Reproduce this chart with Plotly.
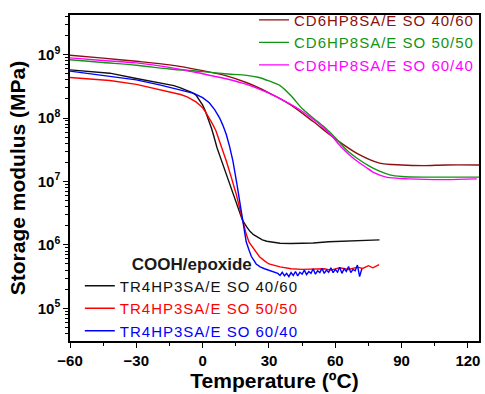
import plotly.graph_objects as go

# ---------------- data ----------------
cd_4060_T = [-60, -45, -30, -15, 0, 10, 20, 30, 40, 50, 60, 70, 80, 90, 100, 110, 125]
cd_4060_E = [9.8e8, 8.8e8, 7.85e8, 6.9e8, 5.6e8, 4.7e8, 3.6e8, 2.5e8, 1.6e8, 8.8e7, 4.7e7,
             2.75e7, 1.95e7, 1.82e7, 1.78e7, 1.82e7, 1.82e7]

cd_5050_T = [-60, -45, -30, -15, 0, 10, 20, 25, 30, 35, 40, 45, 50, 55, 60, 65, 70, 75, 80,
             85, 90, 100, 110, 125]
cd_5050_E = [8.3e8, 7.5e8, 6.8e8, 5.95e8, 5.4e8, 5.0e8, 4.7e8, 4.4e8, 3.85e8, 3.25e8, 2.24e8,
             1.41e8, 1.0e8, 7.2e7, 4.9e7, 3.16e7, 2.3e7, 1.78e7, 1.45e7, 1.26e7, 1.2e7, 1.17e7,
             1.17e7, 1.17e7]

cd_6040_T = [-60, -45, -30, -15, -5, 0, 10, 18, 25, 33, 38, 44, 48, 53, 58, 63, 68, 74, 78,
             83, 93, 110, 124]
cd_6040_E = [8.9e8, 8.1e8, 7.4e8, 6.3e8, 5.4e8, 5.0e8, 4.2e8, 3.55e8, 2.9e8, 2.2e8, 1.78e8,
             1.35e8, 1.07e8, 7.9e7, 5.4e7, 3.4e7, 2.35e7, 1.66e7, 1.35e7, 1.17e7, 1.1e7,
             1.07e7, 1.1e7]

tr_4060_T = [-60, -50, -42, -30, -19, -13, -10, -7, -5, -3, -1.5, 0, 1, 2, 3, 4, 5, 6.5, 8.5,
             10.7, 13, 15, 16.5, 18, 20, 21.5, 23, 25, 27, 29, 32, 35, 40, 50, 57, 65, 72, 80]
tr_4060_E = [5.75e8, 5.4e8, 5.1e8, 4.2e8, 3.55e8, 3.25e8, 3.0e8, 2.75e8, 2.55e8, 2.3e8,
             1.95e8, 1.6e8, 1.35e8, 1.1e8, 8.9e7, 6.9e7, 5.25e7, 3.4e7, 2.15e7, 1.29e7, 7.9e6,
             5.0e6, 3.4e6, 2.45e6, 1.9e6, 1.62e6, 1.45e6, 1.3e6, 1.2e6, 1.14e6, 1.09e6, 1.06e6,
             1.05e6, 1.07e6, 1.12e6, 1.15e6, 1.17e6, 1.2e6]

tr_5050_T = [-60, -42, -30, -19, -10, -7, -5, -3, -1.5, 0, 1.5, 3, 4.5, 6, 8.5, 10.7, 13,
             15.2, 17.5, 19.7, 21, 22.5, 24, 25.7, 28, 30, 35, 40, 45, 50, 55, 58, 62, 66, 70,
             72.4, 75, 77, 79.8]
tr_5050_E = [4.35e8, 3.9e8, 3.4e8, 2.8e8, 2.35e8, 2.15e8, 1.98e8, 1.8e8, 1.62e8, 1.45e8,
             1.22e8, 1.0e8, 8.0e7, 6.3e7, 3.6e7, 2.1e7, 1.15e7, 6.3e6, 2.95e6, 1.48e6, 1.1e6,
             9.3e5, 7.6e5, 6.5e5, 5.6e5, 5.0e5, 4.5e5, 4.2e5, 4.1e5, 4.1e5, 4.2e5, 4.0e5,
             4.35e5, 4.1e5, 4.45e5, 4.25e5, 4.7e5, 4.35e5, 4.9e5]

tr_6040_T = [-60, -42, -30, -19, -10, -4, 0, 3, 5.5, 7.7, 9.2, 10.7, 12.2, 13.7, 15.5, 17.4,
             18.6, 19.7, 21, 22, 24.2, 26, 28, 31.7, 34, 35, 36, 37, 38, 39, 40, 41, 42, 43, 44,
             45, 46, 47, 48, 49, 50, 51, 52, 53, 54, 55, 56, 57, 58, 59, 60, 61, 62, 63, 64, 65,
             66, 67, 68, 69, 70, 71, 72]
tr_6040_E = [5.5e8, 4.5e8, 4.0e8, 3.3e8, 2.8e8, 2.45e8, 2.1e8, 1.74e8, 1.35e8, 1.0e8, 7.6e7,
             5.5e7, 3.55e7, 2.1e7, 9.1e6, 3.7e6, 1.9e6, 1.12e6, 8.2e5, 6.6e5, 5.0e5, 4.5e5,
             4.2e5, 3.8e5, 3.55e5, 3.3e5, 3.7e5, 3.25e5, 3.55e5, 3.15e5, 3.65e5, 3.3e5, 3.8e5,
             3.25e5, 3.7e5, 3.45e5, 4.0e5, 3.4e5, 3.8e5, 3.55e5, 4.2e5, 3.45e5, 3.9e5, 3.65e5,
             4.25e5, 3.55e5, 4.0e5, 3.7e5, 4.35e5, 3.65e5, 4.1e5, 3.7e5, 4.45e5, 3.55e5, 4.2e5,
             3.8e5, 4.55e5, 3.65e5, 4.1e5, 3.9e5, 4.8e5, 3.15e5, 4.2e5]

x_ticks = [-60, -30, 0, 30, 60, 90, 120]
y_tickvals = [1e5, 1e6, 1e7, 1e8, 1e9]
y_ticktext = ["10<sup>5</sup>", "10<sup>6</sup>", "10<sup>7</sup>", "10<sup>8</sup>", "10<sup>9</sup>"]

FONT = "Arial, 'Liberation Sans', sans-serif"

series = [
    (cd_4060_T, cd_4060_E, "CD6HP8SA/E SO 40/60", "#8B1010", "legend", "spline"),
    (cd_5050_T, cd_5050_E, "CD6HP8SA/E SO 50/50", "#139413", "legend", "spline"),
    (cd_6040_T, cd_6040_E, "CD6HP8SA/E SO 60/40", "#FF00FF", "legend", "spline"),
    (tr_4060_T, tr_4060_E, "TR4HP3SA/E SO 40/60", "#111111", "legend2", "linear"),
    (tr_5050_T, tr_5050_E, "TR4HP3SA/E SO 50/50", "#FF0000", "legend2", "linear"),
    (tr_6040_T, tr_6040_E, "TR4HP3SA/E SO 60/40", "#0000FF", "legend2", "linear"),
]

fig = go.Figure()
for T, E, name, color, leg, shape in series:
    line = dict(color=color, width=1.4, shape=shape)
    if shape == "spline":
        line["smoothing"] = 0.8
    fig.add_trace(go.Scatter(
        x=T, y=E, mode="lines",
        name=f"<span style='color:{color};letter-spacing:1px'>{name}</span>",
        line=line,
        legend=leg,
    ))

fig.update_layout(
    width=485, height=394,
    margin=dict(l=70, r=4, t=12, b=53),
    paper_bgcolor="white", plot_bgcolor="white",
    font=dict(family=FONT, color="black"),
    legend=dict(
        x=1.0, y=1.035, xanchor="right", yanchor="top",
        bgcolor="rgba(0,0,0,0)", font=dict(size=15, family=FONT),
        tracegroupgap=0, itemwidth=30,
    ),
    legend2=dict(
        x=0.024, y=0.287, xanchor="left", yanchor="top",
        bgcolor="rgba(0,0,0,0)", font=dict(size=15, family=FONT),
        title=dict(text="COOH/epoxide", side="top center",
                   font=dict(size=17, family=FONT, weight="bold", color="#1a1a1a")),
        tracegroupgap=0, itemwidth=30,
    ),
    xaxis=dict(
        range=[-60, 125], tickvals=x_ticks, ticks="outside", ticklen=5, tickwidth=1.3,
        tickcolor="black", showline=True, linecolor="black", linewidth=1.5, mirror=True,
        showgrid=False, zeroline=False,
        tickfont=dict(size=15, family=FONT, weight="bold"),
        minor=dict(dtick=15, tick0=-60, ticks="outside", ticklen=3, tickcolor="black", showgrid=False),
        title=dict(text="Temperature (ºC)", font=dict(size=21, family=FONT, weight="bold"), standoff=4),
    ),
    yaxis=dict(
        type="log", range=[4.484, 9.625], tickvals=y_tickvals, ticktext=y_ticktext,
        ticks="outside", ticklen=5, tickwidth=1.3, tickcolor="black",
        showline=True, linecolor="black", linewidth=1.5, mirror=True,
        showgrid=False, zeroline=False,
        tickfont=dict(size=15, family=FONT, weight="bold"),
        minor=dict(dtick="D1", ticks="outside", ticklen=3, tickcolor="black", showgrid=False),
        title=dict(text="Storage modulus (MPa)", font=dict(size=21, family=FONT, weight="bold"), standoff=6),
    ),
)

fig.write_html("out.html", config={"displayModeBar": False},
               post_script="document.body.style.margin='0';")
